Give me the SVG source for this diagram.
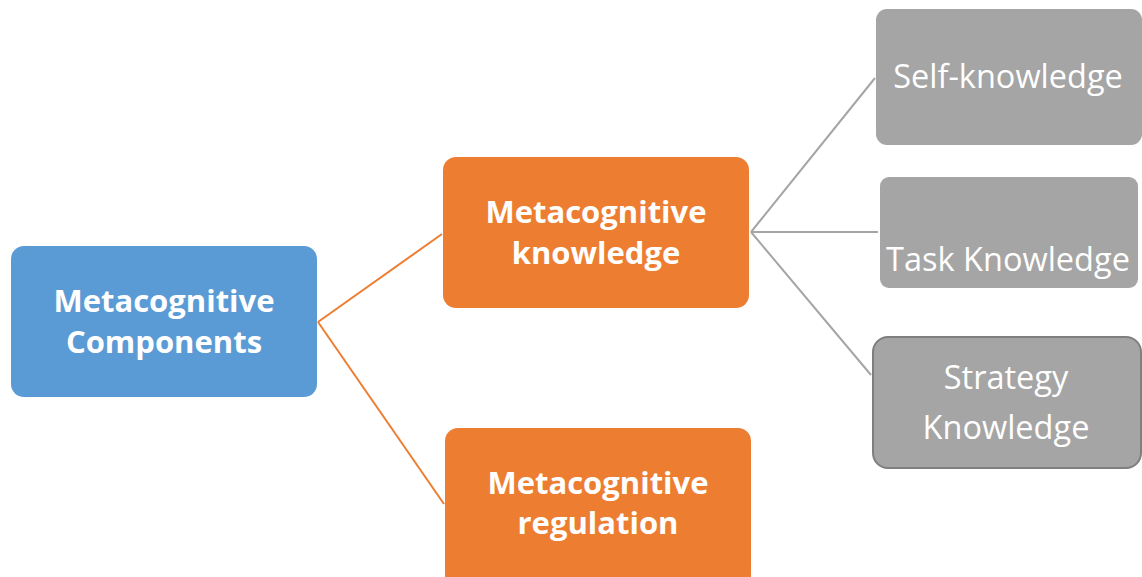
<svg xmlns="http://www.w3.org/2000/svg" width="1142" height="577" viewBox="0 0 1142 577">
<style>
.b{font-family:"Open Sans","Liberation Sans",sans-serif;font-weight:bold;font-size:31px;fill:#fff;text-anchor:middle}
.r{font-family:"Open Sans","Liberation Sans",sans-serif;font-size:32.5px;fill:#fff;text-anchor:middle}
.oc{stroke:#ED7D31;stroke-width:2;fill:none}
.gc{stroke:#A5A5A5;stroke-width:2;fill:none}
</style>
<rect width="1142" height="577" fill="#fff"/>
<g id="connectors">
<line class="oc" x1="318" y1="322" x2="442" y2="234"/>
<line class="oc" x1="318" y1="322" x2="444" y2="504"/>
<line class="gc" x1="751" y1="232" x2="875" y2="78"/>
<line class="gc" x1="751" y1="232" x2="878" y2="232"/>
<line class="gc" x1="751" y1="232" x2="871" y2="375"/>
</g>
<g id="components">
<rect x="11" y="246" width="306" height="151" rx="13" fill="#5B9BD5"/>
<text class="b" x="164" y="312">Metacognitive</text>
<text class="b" x="164" y="353">Components</text>
</g>
<g id="knowledge">
<rect x="443" y="157" width="306" height="151" rx="13" fill="#ED7D31"/>
<text class="b" x="596" y="223">Metacognitive</text>
<text class="b" x="596" y="264">knowledge</text>
</g>
<g id="regulation">
<rect x="445" y="428" width="306" height="160" rx="13" fill="#ED7D31"/>
<text class="b" x="598" y="494">Metacognitive</text>
<text class="b" x="598" y="534">regulation</text>
</g>
<g id="self">
<rect x="876" y="9" width="266" height="136" rx="11" fill="#A5A5A5"/>
<text class="r" x="1008" y="88">Self-knowledge</text>
</g>
<g id="task">
<rect x="880" y="177" width="258" height="111" rx="9" fill="#A5A5A5"/>
<text class="r" x="1008" y="271">Task Knowledge</text>
</g>
<g id="strategy">
<rect x="873" y="337" width="268" height="131" rx="15" fill="#A5A5A5" stroke="#7F7F7F" stroke-width="2"/>
<text class="r" x="1006" y="389">Strategy</text>
<text class="r" x="1006" y="439">Knowledge</text>
</g>
</svg>
